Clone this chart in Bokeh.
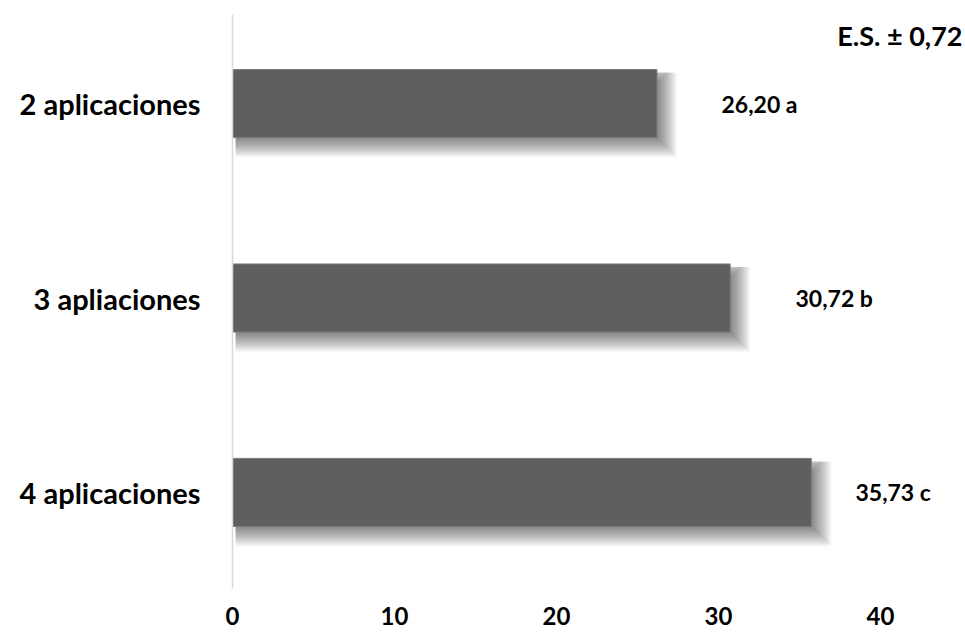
from bokeh.plotting import figure
from bokeh.models import Range1d, FixedTicker, ColumnDataSource
from bokeh.core.properties import value
from bokeh.embed import file_html
from bokeh.resources import INLINE

# ---- data ----
categories = ["2 aplicaciones", "3 apliaciones", "4 aplicaciones"]
values = [26.20, 30.72, 35.73]
letters = ["a", "b", "c"]
x_ticks = [0, 10, 20, 30, 40]
es_text = "E.S. ± 0,72"

# ---- style / layout ----
FONT = "Lato"
BAR_COLOR = "#5f5f5f"
label_gap = [2.75, 2.80, 1.49]   # gap from bar end to value label box (data units)
bar_h = 0.35

W, H = 965, 634
ML, MT, MB = 232, 14, 46
x_end = (W - ML) / 16.2
px_x = x_end / (W - ML)
y_lo, y_hi = 0.506, 3.458
px_y = (y_hi - y_lo) / (H - MT - MB)

n = len(categories)
ypos = [n - i for i in range(n)]  # top to bottom

p = figure(width=W, height=H, output_backend="svg", toolbar_location=None,
           x_range=Range1d(0, x_end), y_range=Range1d(y_lo, y_hi),
           min_border_left=ML, min_border_right=0, min_border_top=MT,
           min_border_bottom=MB)
p.outline_line_color = None
p.grid.visible = False
p.background_fill_color = "white"
p.border_fill_color = "white"

# soft (blurred) drop shadow built from stacked translucent layers
DX, DY, R = 7, 7, 13
for k in range(0, 2 * R + 1):
    e = k - R  # expansion in px around offset core
    src = ColumnDataSource(dict(
        left=[3 * px_x for _ in values],
        right=[v + (DX + e) * px_x for v in values],
        top=[y + bar_h / 2 - (DY - min(e, 4)) * px_y for y in ypos],
        bottom=[y - bar_h / 2 - (DY + e) * px_y for y in ypos],
    ))
    p.quad(left="left", right="right", top="top", bottom="bottom", source=src,
           fill_color="black", fill_alpha=0.027, line_color=None)

bars = ColumnDataSource(dict(y=ypos, right=values))
p.hbar(y="y", left=0, right="right", height=bar_h, source=bars,
       fill_color=BAR_COLOR, line_color="#7a7a7a", line_width=1)

lab = ColumnDataSource(dict(
    x=[v + g for v, g in zip(values, label_gap)],
    y=ypos,
    t=[("%.2f" % v).replace(".", ",") + " " + l for v, l in zip(values, letters)],
))
p.text(x="x", y="y", text="t", source=lab, text_font=value(FONT),
       text_font_style="bold", text_font_size="23px", text_color="#000000",
       text_baseline="middle", text_align="left",
       background_fill_color="white", padding=20, border_radius=9)

# E.S. annotation
p.text(x=[(962 - ML) * px_x], y=[3 + 68 * px_y], text=[es_text],
       text_font=value(FONT), text_font_style="bold", text_font_size="27px",
       text_color="#000000", text_baseline="middle", text_align="right")

# y axis (categories)
ya = p.yaxis[0]
ya.ticker = FixedTicker(ticks=ypos)
ya.major_label_overrides = {y: c for y, c in zip(ypos, categories)}
ya.axis_line_color = "#d9d9d9"
ya.axis_line_width = 1.5
ya.major_tick_line_color = None
ya.minor_tick_line_color = None
ya.major_tick_out = 0
ya.major_label_standoff = 32
ya.major_label_text_font = FONT
ya.major_label_text_font_style = "bold"
ya.major_label_text_font_size = "29px"
ya.major_label_text_color = "#000000"

# x axis
xa = p.xaxis[0]
xa.ticker = FixedTicker(ticks=x_ticks)
xa.axis_line_color = None
xa.major_tick_line_color = None
xa.minor_tick_line_color = None
xa.major_tick_out = 0
xa.major_tick_in = 0
xa.major_label_standoff = 18
xa.major_label_text_font = FONT
xa.major_label_text_font_style = "bold"
xa.major_label_text_font_size = "24px"
xa.major_label_text_color = "#000000"

open("out.html", "w").write(file_html(p, INLINE))
